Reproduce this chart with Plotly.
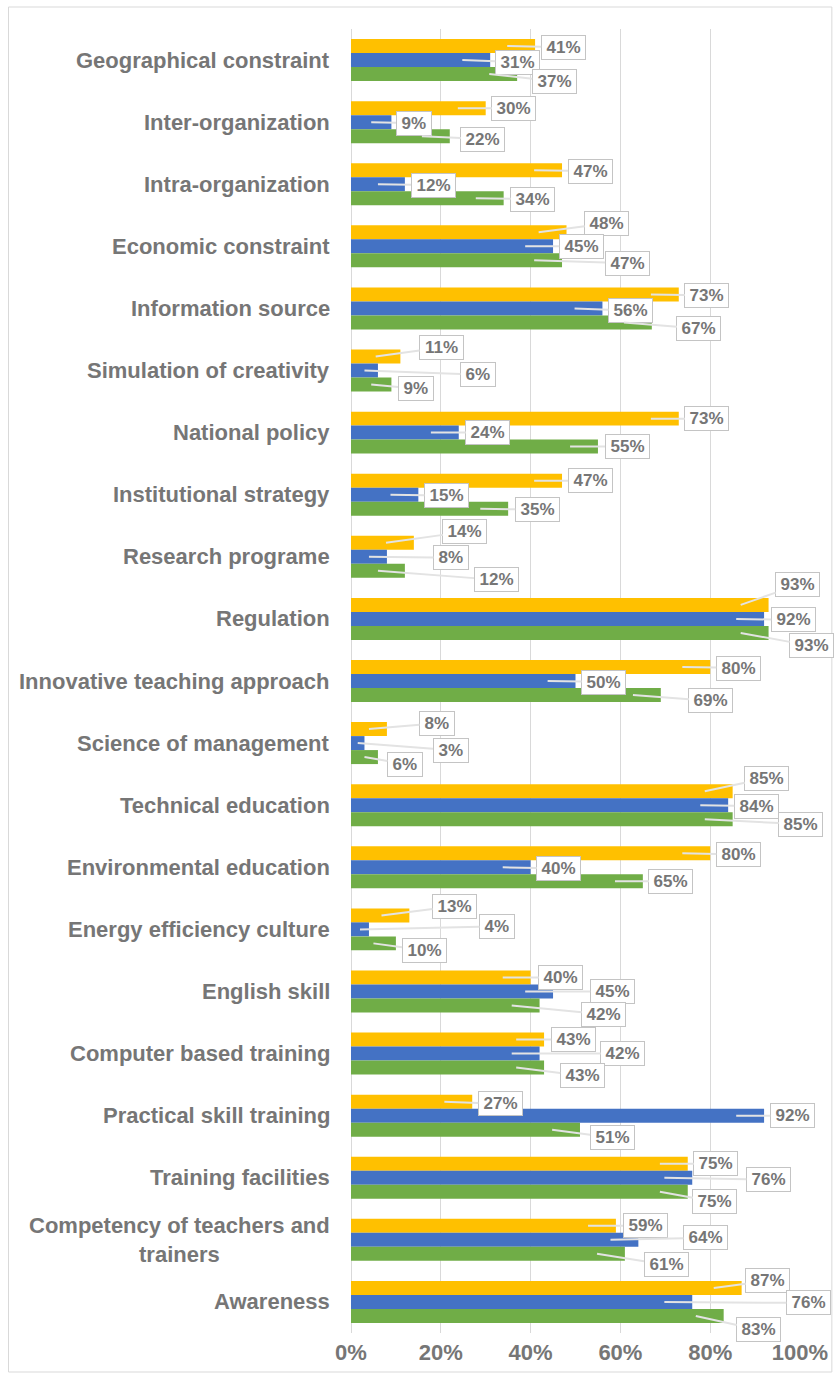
import plotly.graph_objects as go

# ---- data -------------------------------------------------------------
categories = [
    "Geographical constraint", "Inter-organization", "Intra-organization",
    "Economic constraint", "Information source", "Simulation of creativity",
    "National policy", "Institutional strategy", "Research programe",
    "Regulation", "Innovative teaching approach", "Science of management",
    "Technical education", "Environmental education",
    "Energy efficiency culture", "English skill", "Computer based training",
    "Practical skill training", "Training facilities",
    "Competency of teachers and<br>trainers", "Awareness",
]
series_yellow = [41, 30, 47, 48, 73, 11, 73, 47, 14, 93, 80, 8, 85, 80, 13, 40, 43, 27, 75, 59, 87]
series_blue = [31, 9, 12, 45, 56, 6, 24, 15, 8, 92, 50, 3, 84, 40, 4, 45, 42, 92, 76, 64, 76]
series_green = [37, 22, 34, 47, 67, 9, 55, 35, 12, 93, 69, 6, 85, 65, 10, 42, 43, 51, 75, 61, 83]
x_tick_values = [0, 20, 40, 60, 80, 100]
x_tick_labels = ["0%", "20%", "40%", "60%", "80%", "100%"]

# ---- callout placement (pixel offsets of box centre from bar end) -----
callout_dx = {
    "y": [28, 28, 28, 40, 28, 41, 28, 28, 51, 29, 28, 50, 34, 28, 45, 30, 29, 28, 28, 29, 26],
    "b": [27, 22, 28, 28, 28, 100, 29, 28, 64, 29, 28, 86, 28, 28, 128, 59, 83, 28, 76, 67, 116],
    "g": [37, 33, 29, 65, 47, 24, 29, 29, 91, 43, 50, 27, 68, 28, 28, 64, 38, 32, 27, 41, 35],
}
callout_dy = {
    "y": [1, 0, 1, -9, 1, -9, 0, 0, -11, -20, 1, -6, -13, 1, -9, 0, 0, 2, 0, 0, -7],
    "b": [2, 1, 1, 0, 2, 4, 0, 1, 1, 1, 1, 7, 1, 1, -3, 0, 0, 0, 2, -2, 1],
    "g": [7, 3, 1, 3, 6, 4, 0, 1, 9, 13, 6, 7, 5, 0, 7, 9, 8, 8, 10, 11, 14],
}

# ---- layout constants -------------------------------------------------
W, H = 840, 1378
M_L, M_R, M_T, M_B = 351, 38, 29, 45
PLOT_W = W - M_L - M_R
PLOT_H = H - M_T - M_B
BARGAP = 0.324
X_MAX = 100
PX_PER_UNIT = PLOT_W / X_MAX

TEXT_GREY = "#767676"
FONT = "Liberation Sans, Arial, sans-serif"
COLORS = {"y": "#FFC000", "b": "#4472C4", "g": "#70AD47"}
SERIES = [("y", series_yellow), ("b", series_blue), ("g", series_green)]
LABEL_SIZE = 17

idx = list(range(len(categories)))

fig = go.Figure()
for key, vals in SERIES:
    fig.add_trace(go.Bar(
        y=idx, x=vals, orientation="h",
        marker=dict(color=COLORS[key], line=dict(width=0)),
        hoverinfo="x", showlegend=False,
    ))

annotations = []

# category labels (centred lines, right edge next to the axis)
for i, name in enumerate(categories):
    annotations.append(dict(
        xref="paper", yref="y", x=-19 / PLOT_W, y=i,
        xanchor="right", yanchor="middle", align="center",
        text=f"<b>{name}</b>", showarrow=False,
        font=dict(family=FONT, size=22, color=TEXT_GREY),
    ))

# value callouts
bar_w = (1 - BARGAP) / 3
offsets = {"y": -bar_w, "b": 0.0, "g": bar_w}
for key, vals in SERIES:
    for i, v in enumerate(vals):
        bar_len_px = v * PX_PER_UNIT
        back_px = min(28, 0.5 * bar_len_px)
        tip = v - back_px / PX_PER_UNIT
        txt = f"{v}%"
        text_w = LABEL_SIZE * (0.556 * (len(txt) - 1) + 0.889)
        annotations.append(dict(
            x=tip, y=i + offsets[key], xref="x", yref="y",
            ax=callout_dx[key][i] + back_px, ay=callout_dy[key][i],
            text=f"<b>{txt}</b>", showarrow=True,
            arrowhead=0, arrowwidth=2, arrowcolor="#e3e3e3", standoff=0,
            bgcolor="white", bordercolor="#c4c4c4", borderwidth=1,
            borderpad=2, width=text_w + 5, height=19,
            font=dict(family=FONT, size=LABEL_SIZE, color=TEXT_GREY),
        ))

# thin frame around the whole chart
fig.add_shape(
    type="rect", xref="paper", yref="paper",
    x0=(7 - M_L) / PLOT_W, x1=(834 - M_L) / PLOT_W,
    y0=(H - M_B - 1372) / PLOT_H, y1=(H - M_B - 7) / PLOT_H,
    line=dict(color="#d9d9d9", width=1), fillcolor="rgba(0,0,0,0)",
    layer="below",
)

fig.update_layout(
    width=W, height=H,
    margin=dict(l=M_L, r=M_R, t=M_T, b=M_B, pad=0),
    paper_bgcolor="white", plot_bgcolor="white",
    barmode="group", bargap=BARGAP, bargroupgap=0,
    annotations=annotations,
    font=dict(family=FONT, color=TEXT_GREY),
)
fig.update_xaxes(
    range=[0, X_MAX], tickvals=x_tick_values, ticktext=x_tick_labels,
    showgrid=True, gridcolor="#d9d9d9", gridwidth=1,
    zeroline=True, zerolinecolor="#d9d9d9", zerolinewidth=1,
    showline=False, ticks="", ticklabelstandoff=4,
    tickfont=dict(family=FONT, size=22, color=TEXT_GREY, weight="bold"),
    fixedrange=True,
)
fig.update_yaxes(
    range=[len(categories) - 0.5, -0.5], showticklabels=False,
    showgrid=False, zeroline=False, showline=False, ticks="",
    fixedrange=True,
)

fig.write_html("out.html")
